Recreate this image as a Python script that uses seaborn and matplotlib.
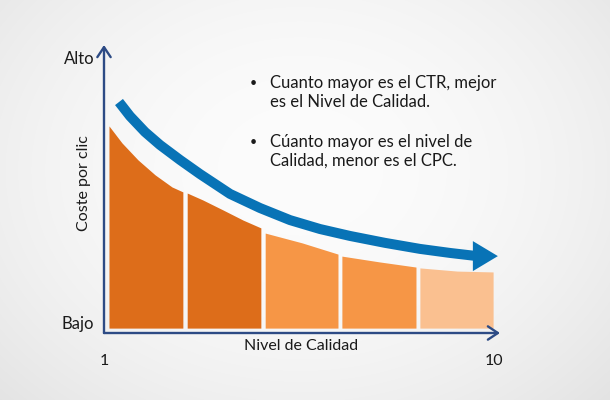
import numpy as np
import matplotlib
matplotlib.use("Agg")
import matplotlib.pyplot as plt
import seaborn as sns

# ---------------- data ----------------
# Quality level (x) vs cost per click (y, 0 = "Bajo", 10 = "Alto" scale)
seg_x = [
    [1.115, 1.415, 1.785, 2.18, 2.57, 2.82],
    [2.92, 3.28, 3.75, 4.21, 4.62],
    [4.72, 5.57, 6.40],
    [6.49, 7.35, 8.20],
    [8.29, 9.15, 9.98],
]
seg_y = [
    [7.19, 6.60, 6.01, 5.49, 5.07, 4.90],
    [4.86, 4.62, 4.27, 3.92, 3.65],
    [3.47, 3.13, 2.74],
    [2.67, 2.47, 2.29],
    [2.26, 2.15, 2.12],
]
seg_colors = ["#DD6D1A", "#DD6D1A", "#F69646", "#F69646", "#FAC090"]
bar_bottom = 0.17

arrow_x = [1.346, 1.60, 1.946, 2.292, 2.754, 3.215, 3.908, 4.60, 5.293,
           5.985, 6.677, 7.485, 8.293, 8.985, 9.61]
arrow_y = [8.02, 7.53, 6.98, 6.53, 6.01, 5.52, 4.83, 4.34, 3.92,
           3.61, 3.37, 3.13, 2.92, 2.78, 2.67]
arrow_tip = (10.09, 2.67)

x_ticks = [1, 10]
x_tick_labels = ["1", "10"]
y_ticks = [0.38, 9.55]
y_tick_labels = ["Bajo", "Alto"]
x_label = "Nivel de Calidad"
y_label = "Coste por clic"
bullets = [
    "Cuanto mayor es el CTR, mejor\nes el Nivel de Calidad.",
    "Cúanto mayor es el nivel de\nCalidad, menor es el CPC.",
]

# ---------------- style ----------------
sns.set_theme(style="white")
plt.rcParams["font.family"] = ["Lato", "DejaVu Sans"]
TXT = "#1a1a1a"
AXC = "#2D4B85"
BLUE = "#0873B6"

W, H = 610, 400
fig = plt.figure(figsize=(W / 100, H / 100), dpi=100)

# background radial gradient
bg = fig.add_axes([0, 0, 1, 1], zorder=-10)
yy, xx = np.mgrid[0:H, 0:W]
r = np.sqrt(((xx - 300) / 420.0) ** 2 + ((yy - 170) / 330.0) ** 2)
val = 0.988 - 0.095 * r ** 2
bg.imshow(np.dstack([val, val, val]).clip(0, 1), aspect="auto", extent=[0, 1, 0, 1])
bg.set_axis_off()

# main axes: data x 1..10.14 spans px 104..500, y 0..10 spans px 333..45
ax = fig.add_axes([104 / W, (H - 333) / H, (500 - 104) / W, (333 - 45) / H])
ax.set_facecolor("none")
ax.set_xlim(1, 1 + 396 / 43.33)
ax.set_ylim(0, 10)
for s in ax.spines.values():
    s.set_visible(False)

# orange segments under the curve
for xs, ys, c in zip(seg_x, seg_y, seg_colors):
    ax.fill_between(xs, bar_bottom, ys, color=c, lw=0, zorder=2)

# blue arrow
sns.lineplot(x=arrow_x, y=arrow_y, sort=False, ax=ax, color=BLUE, lw=7.2,
             solid_capstyle="butt", solid_joinstyle="round", zorder=3)
ax.annotate("", xy=arrow_tip, xytext=(arrow_x[-1], arrow_y[-1]),
            arrowprops=dict(arrowstyle="-|>,head_length=1.5,head_width=0.9",
                            color=BLUE, lw=0, shrinkA=0, shrinkB=0), zorder=3)

# axes arrows
xmax = ax.get_xlim()[1]
for xy in [(xmax, 0), (1, 10)]:
    ax.annotate("", xy=xy, xytext=(1, 0),
                arrowprops=dict(arrowstyle="->,head_length=0.6,head_width=0.4",
                                color=AXC, lw=1.7, shrinkA=0, shrinkB=0),
                annotation_clip=False)

# ticks and labels
ax.set_xticks(x_ticks)
ax.set_xticklabels(x_tick_labels, fontsize=11.5, color=TXT)
ax.set_yticks(y_ticks)
ax.set_yticklabels(y_tick_labels, fontsize=12, color=TXT)
ax.tick_params(axis="x", length=0, pad=15)
ax.tick_params(axis="y", length=0, pad=7)
ax.set_xlabel(x_label, fontsize=11.5, color=TXT)
ax.xaxis.set_label_coords((301 - 104) / 396, -(346 - 333) / 288)
ax.xaxis.label.set_va("center")
ax.set_ylabel(y_label, fontsize=11.5, color=TXT)
ax.yaxis.set_label_coords(-(104 - 84) / 396, (333 - 183) / 288)
ax.yaxis.label.set_va("center")

# bullet text
for i, t in enumerate(bullets):
    ytop = 75 + i * 59
    fig.text(253 / W, 1 - (ytop + 8) / H, "•", fontsize=9, color=TXT,
             ha="center", va="center")
    fig.text(270 / W, 1 - ytop / H, t, fontsize=12, color=TXT, ha="left", va="top",
             linespacing=1.2)

fig.savefig("out.png", dpi=100)
